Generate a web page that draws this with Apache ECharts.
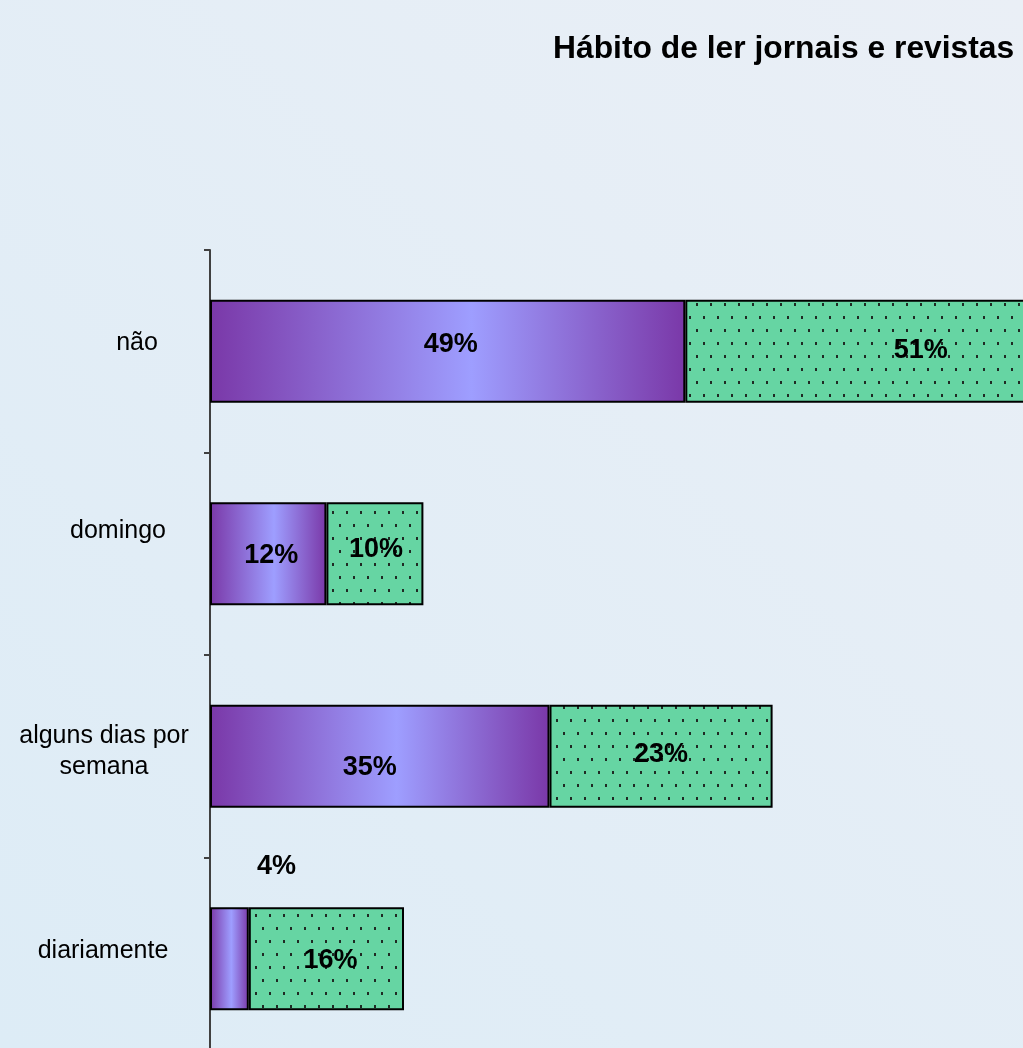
<!DOCTYPE html>
<html>
<head>
<meta charset="utf-8">
<script src="https://cdn.jsdelivr.net/npm/echarts@6/dist/echarts.min.js"></script>
<style>
html,body{margin:0;padding:0;}
#chart{width:1023px;height:1048px;}
</style>
</head>
<body>
<div id="chart"></div>
<script>
// ---- data ----
var categories = ['diariamente', 'alguns dias por\nsemana', 'domingo', 'não'];
var purpleValues = [4, 35, 12, 49];
var greenValues = [16, 23, 10, 51];
var titleText = 'Hábito de ler jornais e revistas';

// ---- styling (not data) ----
var purpleLabelOffsets = [[47, -92], [-10, 11], [3, 2], [3, -7]];
var greenLabelOffsets = [[4, 2], [0, -2], [1, -4], [-12, -1]];
var catLineShift = [[-15], [-14, -14], [0], [19]];
var catRaise = [8, 5, 23, 8];

function dotPattern() {
  var c = document.createElement('canvas');
  c.width = 14; c.height = 26;
  var g = c.getContext('2d');
  g.fillStyle = '#66d5a3';
  g.fillRect(0, 0, 14, 26);
  g.fillStyle = '#1f2a24';
  g.fillRect(3, 4, 2, 3);
  g.fillRect(10, 17, 2, 3);
  return c;
}

var rich = {};
catLineShift.forEach(function (shifts, i) {
  shifts.forEach(function (s, j) {
    rich['L' + i + '_' + j] = {
      padding: s >= 0 ? [0, 0, 0, 2 * s] : [0, -2 * s, 0, 0],
      fontSize: 25, lineHeight: 31, color: '#000',
      fontFamily: 'Liberation Sans, Arial, sans-serif'
    };
  });
  rich['S' + i] = {height: 2 * catRaise[i], lineHeight: 2 * catRaise[i], fontSize: 2};
});

var purpleGrad = {
  type: 'linear', x: 0, y: 0, x2: 1, y2: 0,
  colorStops: [
    {offset: 0, color: '#7a38a8'},
    {offset: 0.55, color: '#9e9eff'},
    {offset: 1, color: '#7a38a8'}
  ]
};

var labelBase = {
  show: true, position: 'inside', color: '#000',
  fontFamily: 'Liberation Sans, Arial, sans-serif',
  fontWeight: 'bold', fontSize: 27,
  formatter: function (p) { return p.value + '%'; }
};

var pattern = dotPattern();

var chart = echarts.init(document.getElementById('chart'));
chart.setOption({
  backgroundColor: {
    type: 'linear', x: 0, y: 1, x2: 1, y2: 0,
    colorStops: [{offset: 0, color: '#ddecf6'}, {offset: 1, color: '#eaeff6'}]
  },
  animation: false,
  title: {
    text: titleText, left: 553, top: 33, padding: 0,
    textStyle: {fontFamily: 'Liberation Sans, Arial, sans-serif', fontWeight: 'bold', fontSize: 31.8, color: '#000'}
  },
  grid: {left: 210, top: 250, width: 970, height: 810, outerBoundsMode: 'none', containLabel: false},
  xAxis: {type: 'value', min: 0, max: 100, show: false},
  yAxis: {
    type: 'category',
    data: categories,
    axisLine: {show: true, lineStyle: {color: '#404040', width: 2}},
    axisTick: {show: true, length: 6, lineStyle: {color: '#404040', width: 2}},
    axisLabel: {
      margin: 92, align: 'center', color: '#000', fontSize: 25, lineHeight: 31,
      fontFamily: 'Liberation Sans, Arial, sans-serif',
      formatter: function (value, index) {
        var lines = String(value).split('\n').map(function (ln, j) {
          return '{L' + index + '_' + j + '|' + ln + '}';
        });
        lines.push('{S' + index + '| }');
        return lines.join('\n');
      },
      rich: rich
    },
    splitLine: {show: false}
  },
  series: [
    {
      name: 'A', type: 'bar', stack: 's', barWidth: 103,
      data: purpleValues.map(function (v, i) {
        return {value: v, label: {offset: purpleLabelOffsets[i]}};
      }),
      itemStyle: {color: purpleGrad, borderColor: '#000', borderWidth: 2},
      label: labelBase
    },
    {
      name: 'B', type: 'bar', stack: 's', barWidth: 103,
      data: greenValues.map(function (v, i) {
        return {value: v, label: {offset: greenLabelOffsets[i]}};
      }),
      itemStyle: {color: {image: pattern, repeat: 'repeat'}, borderColor: '#000', borderWidth: 2},
      label: labelBase
    }
  ]
});
</script>
</body>
</html>
